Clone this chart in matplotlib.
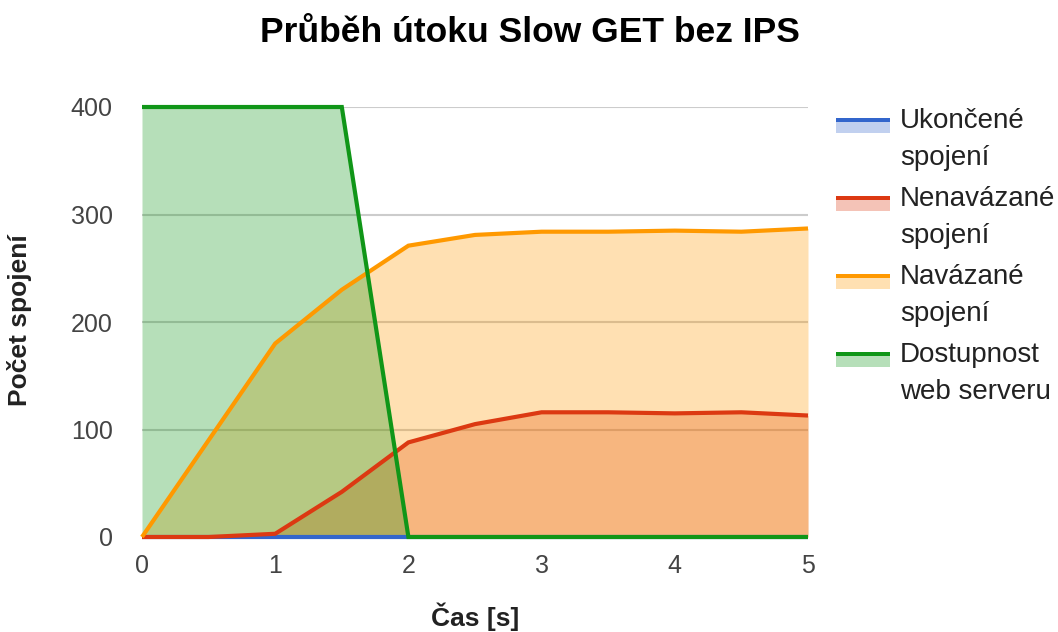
import matplotlib
matplotlib.use("Agg")
import matplotlib.pyplot as plt
from matplotlib.patches import Rectangle

plt.rcParams['font.family'] = ['Liberation Sans', 'DejaVu Sans']

time_s = [0, 0.5, 1, 1.5, 2, 2.5, 3, 3.5, 4, 4.5, 5]
ukoncene = [0, 0, 0, 0, 0, 0, 0, 0, 0, 0, 0]
nenavazane = [0, 0, 3, 42, 88, 105, 116, 116, 115, 116, 113]
navazane = [0, 90, 180, 230, 271, 281, 284, 284, 285, 284, 287]
dostupnost = [400, 400, 400, 400, 0, 0, 0, 0, 0, 0, 0]

series = [
    ("Ukončené\nspojení", ukoncene, "#3366cc"),
    ("Nenavázané\nspojení", nenavazane, "#dc3912"),
    ("Navázané\nspojení", navazane, "#ff9900"),
    ("Dostupnost\nweb serveru", dostupnost, "#109618"),
]

W, H = 1058, 632
fig = plt.figure(figsize=(W / 100, H / 100), dpi=100)
ax = fig.add_axes([142 / W, 1 - 537 / H, (808 - 142) / W, (537 - 107) / H])

for i, (name, vals, col) in enumerate(series):
    ax.fill_between(time_s, 0, vals, color=col, alpha=0.3, linewidth=0, zorder=2 + i)
for i, (name, vals, col) in enumerate(series):
    ax.plot(time_s, vals, color=col, lw=3, zorder=10 + i, solid_joinstyle='miter',
            solid_capstyle='butt', clip_on=False)

ax.set_xlim(0, 5)
ax.set_ylim(0, 400)
ax.set_xticks([0, 1, 2, 3, 4, 5])
ax.set_yticks([0, 100, 200, 300, 400])
ax.tick_params(axis='both', length=0, labelsize=18, colors='#444444')
ax.tick_params(axis='y', pad=21)
ax.tick_params(axis='x', pad=12)
ax.grid(axis='y', color='#cccccc', lw=1.5, zorder=1)
ax.set_axisbelow(True)
for s in ax.spines.values():
    s.set_visible(False)

fig.text(530 / W, 1 - 33 / H, "Průběh útoku Slow GET bez IPS", ha='center', va='center',
         fontsize=25.5, fontweight='bold', color='#000000')
fig.text(475 / W, 1 - 617 / H, "Čas [s]", ha='center', va='center',
         fontsize=19, fontweight='bold', color='#222222')
fig.text(20 / W, 1 - 320 / H, "Počet spojení", ha='center', va='center', rotation=90,
         fontsize=19, fontweight='bold', color='#222222')

# legend
for i, (name, vals, col) in enumerate(series):
    top = 118 + i * 78
    fig.add_artist(Rectangle((836 / W, 1 - (top + 15) / H), 54 / W, 11 / H,
                             transform=fig.transFigure, color=col, alpha=0.3, lw=0))
    fig.add_artist(Rectangle((836 / W, 1 - (top + 4) / H), 54 / W, 4 / H,
                             transform=fig.transFigure, color=col, lw=0))
    for j, line in enumerate(name.split("\n")):
        fig.text(900 / W, 1 - (128 + i * 78 + j * 37) / H, line, ha='left',
                 va='baseline', fontsize=20, color='#222222')

fig.savefig("out.png", dpi=100)
